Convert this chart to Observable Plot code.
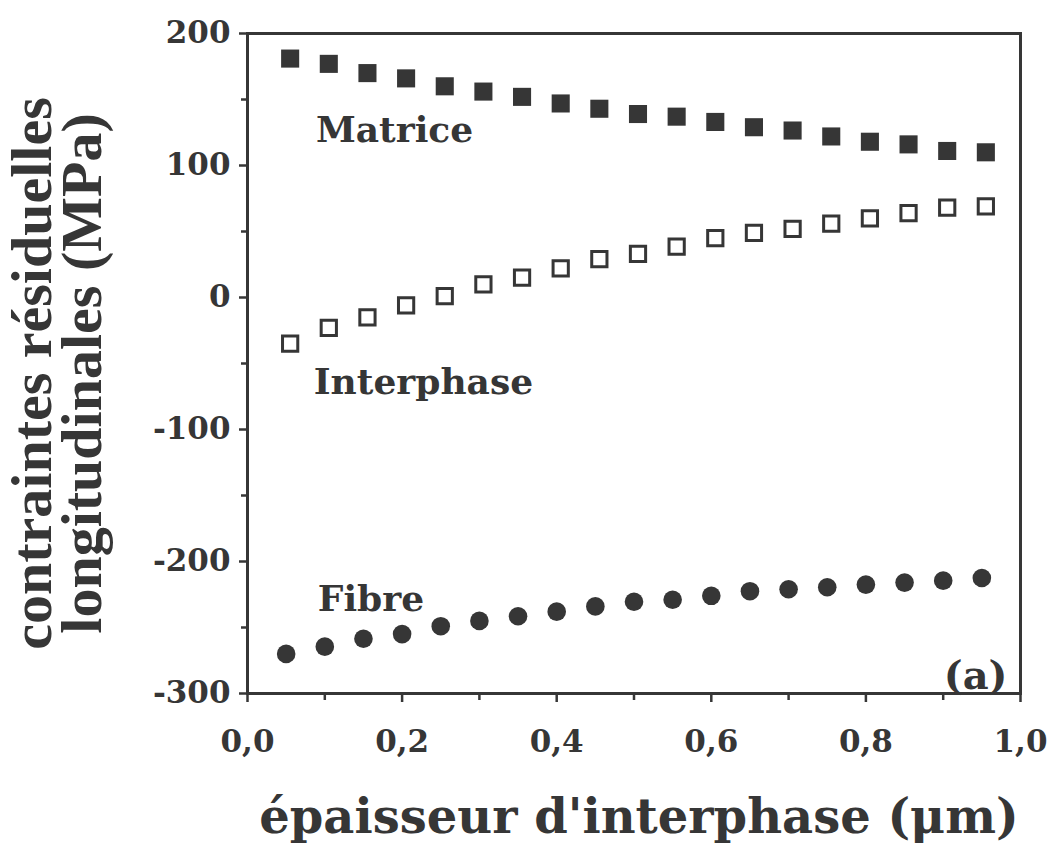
<!DOCTYPE html>
<html>
<head>
<meta charset="utf-8">
<script src="https://cdn.jsdelivr.net/npm/d3@7"></script>
<script src="https://cdn.jsdelivr.net/npm/@observablehq/plot@0.6"></script>
<style>
  html, body { margin: 0; padding: 0; background: #fff; }
</style>
</head>
<body>
<div id="chart"></div>
<script>
// épaisseur d'interphase (µm)
const thickness = [0.05, 0.10, 0.15, 0.20, 0.25, 0.30, 0.35, 0.40, 0.45, 0.50,
                   0.55, 0.60, 0.65, 0.70, 0.75, 0.80, 0.85, 0.90, 0.95];
// contraintes résiduelles longitudinales (MPa)
const matrice = [181, 177, 170, 166, 160, 156, 152, 147, 143, 139,
                 137, 133, 129, 126.5, 122, 118, 116, 111, 110];
const interphase = [-35, -23, -15, -6, 1, 10, 15, 22, 29, 33,
                    38.5, 45, 49, 52, 56, 60, 64, 68, 69];
const fibre = [-270, -264.5, -258.5, -255, -249, -245, -241.5, -238, -234, -230.5,
               -229, -226, -222.5, -221, -219.5, -217.5, -216, -214.5, -212.5];

const xMajor = [0, 0.2, 0.4, 0.6, 0.8, 1.0];
const xMinor = [0.1, 0.3, 0.5, 0.7, 0.9];
const yMajor = [-300, -200, -100, 0, 100, 200];
const yMinor = [-250, -150, -50, 50, 150];

const seriesLabels = ["Matrice", "Interphase", "Fibre"];
const xTitle = "épaisseur d'interphase (\u03bcm)";
const yTitle1 = "contraintes résiduelles";
const yTitle2 = "longitudinales (MPa)";
const panelTag = "(a)";

const rows = thickness.map((t, i) => ({t, m: matrice[i], ip: interphase[i], f: fibre[i]}));

const ink = "#363636";
const serif = "DejaVu Serif";

const chart = Plot.plot({
  width: 1051,
  height: 846,
  marginLeft: 247,
  marginRight: 31,
  marginTop: 33,
  marginBottom: 153,
  style: {fontFamily: serif, fontWeight: "bold", color: ink, background: "#fff"},
  x: {domain: [0, 1]},
  y: {domain: [-300, 200]},
  marks: [
    Plot.axisX(xMajor, {tickSize: 9, tickPadding: 27, strokeWidth: 2.5, fontSize: 31, fontWeight: "bold",
      tickFormat: d => d.toFixed(1).replace(".", ","), label: null, color: ink}),
    Plot.axisX(xMinor, {tickSize: 7, strokeWidth: 2.5, text: null, label: null, color: ink}),
    Plot.axisY(yMajor, {tickSize: 8, tickPadding: 9, strokeWidth: 2.5, fontSize: 31, fontWeight: "bold",
      tickFormat: d => String(d), label: null, color: ink}),
    Plot.axisY(yMinor, {tickSize: 6, strokeWidth: 2.5, text: null, label: null, color: ink}),
    Plot.frame({stroke: ink, strokeWidth: 3}),
    Plot.dot(rows, {x: "t", y: "m", symbol: "square", r: 10.2, fill: ink, stroke: "none", dx: 4}),
    Plot.dot(rows, {x: "t", y: "ip", symbol: "square", r: 8.6, fill: "#fff", stroke: ink, strokeWidth: 3, dx: 4}),
    Plot.dot(rows, {x: "t", y: "f", symbol: "circle", r: 9.3, fill: ink, stroke: "none"}),
    Plot.text([seriesLabels[0]], {x: 0.0885, y: 118, text: d => d, textAnchor: "start", lineAnchor: "bottom",
      fontSize: 36, fontWeight: "bold", fill: ink}),
    Plot.text([seriesLabels[1]], {x: 0.0857, y: -73, text: d => d, textAnchor: "start", lineAnchor: "bottom",
      fontSize: 36, fontWeight: "bold", fill: ink}),
    Plot.text([seriesLabels[2]], {x: 0.091, y: -237.7, text: d => d, textAnchor: "start", lineAnchor: "bottom",
      fontSize: 36, fontWeight: "bold", fill: ink}),
    Plot.text([panelTag], {frameAnchor: "bottom-right", text: d => d, textAnchor: "end", lineAnchor: "bottom",
      dx: -13, dy: -5, fontSize: 40, fontWeight: "bold", fill: ink}),
    Plot.text([xTitle], {frameAnchor: "bottom", text: d => d, textAnchor: "middle", lineAnchor: "bottom",
      dx: 5, dy: 139, fontSize: 48, fontWeight: "bold", fill: ink}),
    Plot.text([yTitle1], {frameAnchor: "left", text: d => d, rotate: -90, textAnchor: "middle", lineAnchor: "bottom",
      dx: -197, dy: 10, fontSize: 58, fontWeight: "bold", fontFamily: "Liberation Serif", fill: ink}),
    Plot.text([yTitle2], {frameAnchor: "left", text: d => d, rotate: -90, textAnchor: "middle", lineAnchor: "bottom",
      dx: -147, dy: 10, fontSize: 58, fontWeight: "bold", fontFamily: "Liberation Serif", fill: ink})
  ]
});
document.getElementById("chart").appendChild(chart);
</script>
</body>
</html>
